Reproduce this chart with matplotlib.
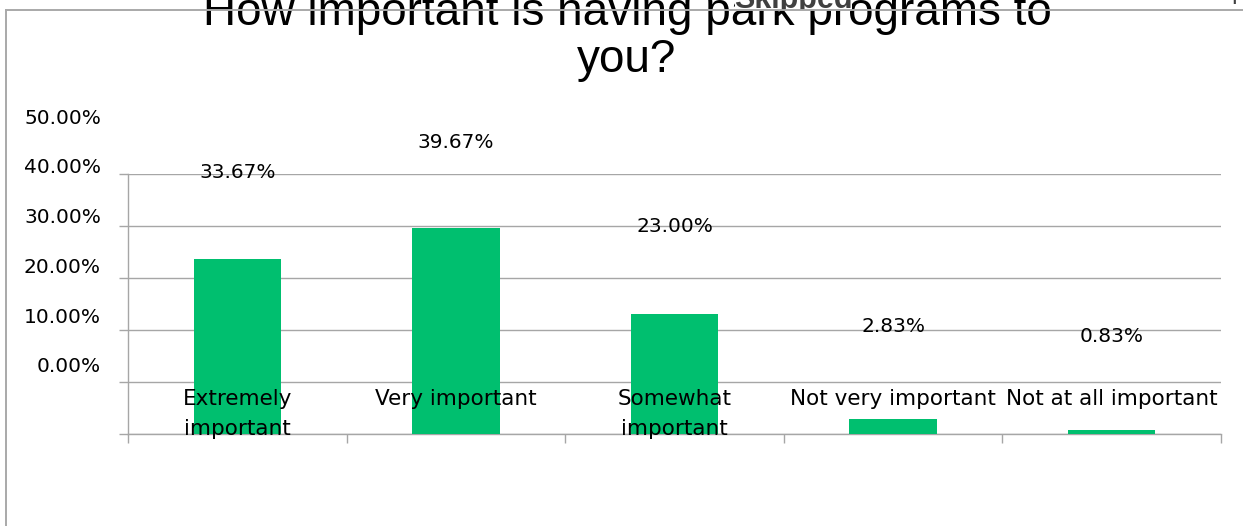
import matplotlib
matplotlib.use("Agg")
import matplotlib.pyplot as plt
from matplotlib.lines import Line2D
from matplotlib.patches import Rectangle
from matplotlib.transforms import ScaledTranslation, Bbox, TransformedBbox
import numpy as np

# survey answers and their share of respondents (%)
categories = ["Extremely\nimportant", "Very important", "Somewhat\nimportant",
              "Not very important", "Not at all important"]
shares = [33.67, 39.67, 23.00, 2.83, 0.83]
yticks = [0, 10, 20, 30, 40, 50]
title_lines = ["How important is having park programs to", "you?"]

green = "#00bf6f"
grid_c = "#a6a6a6"
label_font = "DejaVu Sans"

W, H = 1243, 526
fig = plt.figure(figsize=(W / 100, H / 100), dpi=100)
fig.patch.set_facecolor("white")

# plot area in pixel terms
x0, x1, ytop, ybot = 128, 1221, 174, 434
ax = fig.add_axes([x0 / W, (H - ybot) / H, (x1 - x0) / W, (ybot - ytop) / H])
ax.patch.set_alpha(0)

x = np.arange(len(categories))
ax.bar(x, shares, width=0.40, color=green, zorder=3)

ax.set_xlim(-0.5, len(categories) - 0.5)
ax.set_ylim(0, 50)
ax.set_yticks(yticks)
ax.set_yticklabels([])
ax.set_xticks(np.arange(-0.5, len(categories), 1))
ax.set_xticklabels([])
ax.tick_params(axis="both", direction="out", length=6.5, width=1.0, color=grid_c)
ax.grid(axis="y", color=grid_c, lw=1.0, zorder=1)
for s in ["top", "right"]:
    ax.spines[s].set_visible(False)
for s in ["left", "bottom"]:
    ax.spines[s].set_color(grid_c)
    ax.spines[s].set_linewidth(1.0)

def px(dx, dy):
    return ScaledTranslation(dx / 100, dy / 100, fig.dpi_scale_trans)

# y labels sit a step above their gridlines
for v in yticks:
    ax.text(-27 / (x1 - x0), v, "%.2f%%" % v, transform=ax.get_yaxis_transform() + px(0, 67 - 0.22 * v),
            ha="right", va="center", fontsize=14.5, family=label_font, color="black")

# value labels floating above the bars
for i, v in enumerate(shares):
    ax.text(i, v, "%.2f%%" % v, transform=ax.transData + px(0, 93 - 0.2 * v),
            ha="center", va="center", fontsize=14.5, family=label_font, color="black", zorder=2)

# category names drawn inside the plot, above the baseline
for i, c in enumerate(categories):
    ax.text(i, 0, c, transform=ax.transData + px(0, 45),
            ha="center", va="top", fontsize=15.5, family=label_font, color="black",
            linespacing=1.6, zorder=4)

# title, partly pushed off the top edge
fig.text(627 / W, 1 - 25 / H, title_lines[0], ha="center", va="baseline", zorder=3,
         fontsize=33, family="Liberation Sans", color="black")
fig.text(627 / W, 1 - 72 / H, title_lines[1], ha="center", va="baseline", zorder=3,
         fontsize=33, family="Liberation Sans", color="black")

# page header strip above the panel: white box and text cut at the frame line
header_clip = TransformedBbox(Bbox([[0, 1 - 10 / H], [1, 1]]), fig.transFigure)
fig.add_artist(Rectangle((735 / W, 1 - 10 / H), 117 / W, 10 / H, transform=fig.transFigure,
                         facecolor="white", edgecolor="none", zorder=4))
skipped = fig.text(793 / W, 1 - 8 / H, "Skipped", ha="center", va="baseline", zorder=5,
                   fontsize=22, weight="bold", family="Liberation Sans", color="#404040")
page_no = fig.text(1238 / W, 1 - 4 / H, "4", ha="right", va="baseline", zorder=5,
                   fontsize=18, family="Liberation Sans", color="#404040")
for t in (skipped, page_no):
    t.set_clip_box(header_clip)
    t.set_clip_on(True)

# outer frame: top and left edges only
fig.add_artist(Line2D([6 / W, 1.0], [1 - 10 / H, 1 - 10 / H], transform=fig.transFigure,
                      color="#a9a9a9", lw=1.4, zorder=6))
fig.add_artist(Line2D([6 / W, 6 / W], [0, 1 - 10 / H], transform=fig.transFigure,
                      color="#a9a9a9", lw=1.4, zorder=6))

fig.savefig("out.png", dpi=100)
